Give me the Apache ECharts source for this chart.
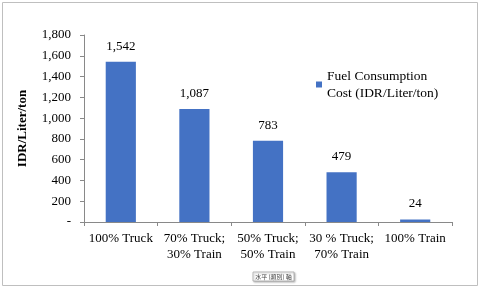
<!DOCTYPE html>
<html><head><meta charset="utf-8">
<script src="https://cdn.jsdelivr.net/npm/echarts@6/dist/echarts.min.js"></script>
<style>html,body{margin:0;padding:0;background:#fff}#c{width:480px;height:290px}</style>
</head><body><div id="c"></div>
<script>
var categories = ['100% Truck', '70% Truck;\n30% Train', '50% Truck;\n50% Train', '30 % Truck;\n70% Train', '100% Train'];
var values = [1542, 1087, 783, 479, 24];
var seriesName = 'Fuel Consumption Cost (IDR/Liter/ton)';
var yTicks = [0, 200, 400, 600, 800, 1000, 1200, 1400, 1600, 1800];
var axisName = 'IDR/Liter/ton';
var axisHint = '水平 (類別) 軸';

var serif = '"Liberation Serif", "Times New Roman", serif';
var chart = echarts.init(document.getElementById('c'), null, {renderer: 'canvas'});
function fmt(v){ return v === 0 ? '-' : v.toLocaleString('en-US'); }
chart.setOption({
  animation: false,
  grid: {left: 84, right: 28, top: 35, bottom: 68},
  legend: {
    left: 316, top: 59, padding: 0, orient: 'vertical',
    icon: 'rect', itemWidth: 6, itemHeight: 6, itemGap: 4,
    formatter: function(){ return 'Fuel Consumption\nCost (IDR/Liter/ton)'; },
    textStyle: {fontFamily: serif, fontSize: 13.5, color: '#000', lineHeight: 17, padding: [17, 0, 0, 0]}
  },
  xAxis: {
    type: 'category', data: categories,
    axisLine: {lineStyle: {color: '#898989'}},
    axisTick: {show: true, length: 4, lineStyle: {color: '#898989'}},
    axisLabel: {fontFamily: serif, fontSize: 13, color: '#000', lineHeight: 16, margin: 9, interval: 0}
  },
  yAxis: {
    type: 'value', min: 0, max: 1800, interval: 200,
    name: axisName, nameLocation: 'middle', nameGap: 55,
    nameTextStyle: {fontFamily: serif, fontSize: 13, fontWeight: 'bold', color: '#000'},
    axisLine: {show: true, lineStyle: {color: '#898989'}},
    axisTick: {show: true, length: 4, lineStyle: {color: '#898989'}},
    splitLine: {show: false},
    axisLabel: {fontFamily: serif, fontSize: 13, color: '#000', margin: 13,
      formatter: function(v){ return yTicks.indexOf(v) >= 0 ? fmt(v) : ''; }}
  },
  series: [{
    type: 'bar', name: seriesName, data: values, barWidth: '41%',
    itemStyle: {color: '#4472C4'},
    label: {show: true, position: 'top', distance: 9, fontFamily: serif, fontSize: 13, color: '#000',
      formatter: function(p){ return fmt(p.value); }}
  }],
  graphic: [
    {type: 'rect', shape: {x: 2.5, y: 2.5, width: 475, height: 283}, style: {fill: 'none', stroke: '#BFBFBF', lineWidth: 1}, silent: true, z: -1},
    {type: 'rect', shape: {x: 253, y: 272, width: 41, height: 9}, style: {fill: '#fff', stroke: '#A0A0A0', lineWidth: 0.7, shadowBlur: 2, shadowColor: 'rgba(0,0,0,0.3)', shadowOffsetX: 1, shadowOffsetY: 1}},
    {type: 'text', x: 273.5, y: 276.5, style: {text: axisHint, font: '6px "Noto Sans CJK TC", sans-serif', fill: '#444', align: 'center', verticalAlign: 'middle'}}
  ]
});
</script></body></html>
